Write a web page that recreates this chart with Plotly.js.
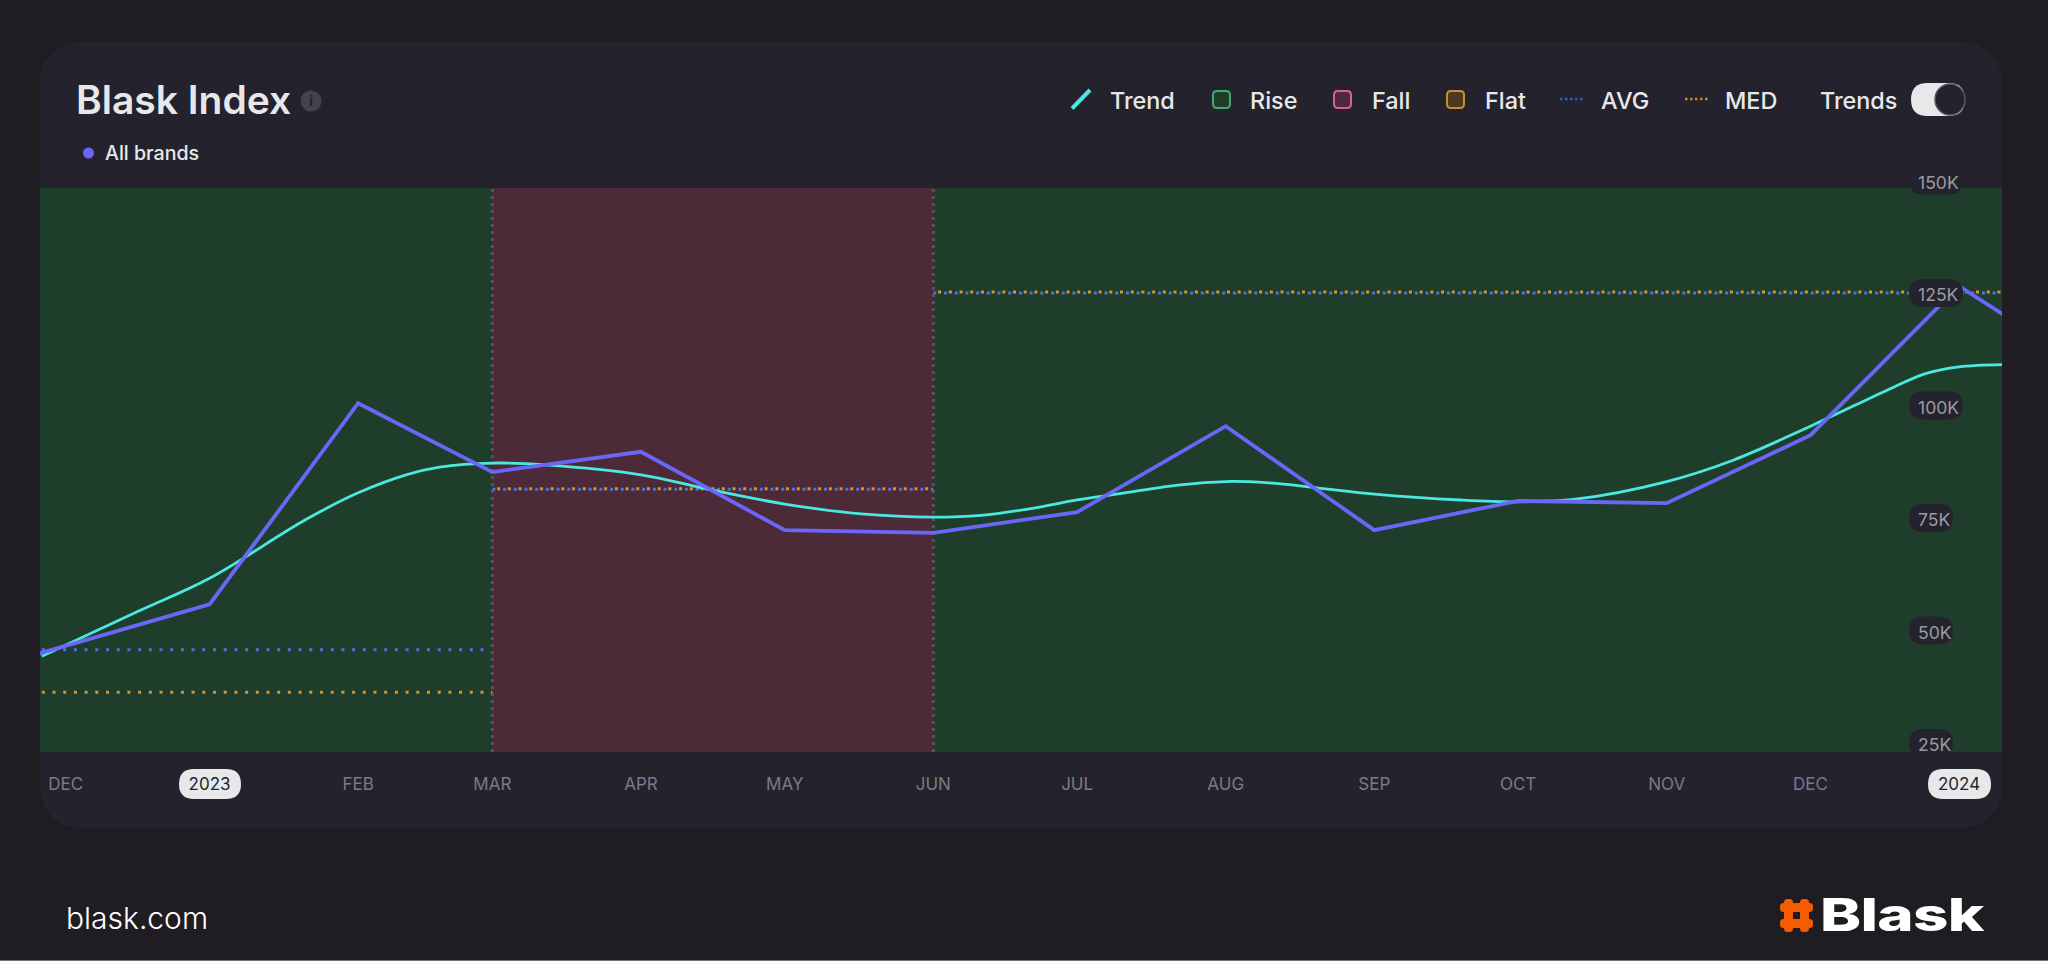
<!DOCTYPE html>
<html>
<head>
<meta charset="utf-8">
<title>Blask Index</title>
<script src="https://cdn.plot.ly/plotly-3.0.1.min.js"></script>
<style>
  html, body { margin: 0; padding: 0; width: 2048px; height: 961px; overflow: hidden; background: #201d22; }
  #card { position: absolute; left: 40px; top: 42px; width: 1962px; height: 786px; background: #24232d; border-radius: 40px; }
  #plot { position: absolute; left: 0; top: 0; width: 2048px; height: 961px; }
  #logo { position: absolute; left: 1820px; top: 888px; font: 800 45px/54px Inter, sans-serif; color: #fff;
          transform: scaleX(1.375); transform-origin: left center; letter-spacing: -0.5px; }
  #edge { position: absolute; left: 0; top: 960px; width: 2048px; height: 1px; background: #77757c; }
</style>
</head>
<body>
<div id="card"></div>
<div id="plot"></div>
<div id="logo">Blask</div>
<div id="edge"></div>
<script>
"use strict";

// ── Data (values in thousands) ──
const indexDates = ["2022-11-01", "2022-12-01", "2023-01-01", "2023-02-01", "2023-03-01", "2023-04-01",
    "2023-05-01", "2023-06-01", "2023-07-01", "2023-08-01", "2023-09-01", "2023-10-01",
    "2023-11-01", "2023-12-01", "2024-01-01", "2024-02-01"];
const indexValues = [37.1, 46.3, 55.8, 100.5, 85.2, 89.7, 72.3, 71.7, 76.3, 95.4, 72.3, 78.8, 78.3, 93.4, 126.5, 105.3];

const trendDates = ["2022-11-27", "2022-12-17", "2023-01-01", "2023-01-21", "2023-02-01", "2023-02-11",
    "2023-02-18", "2023-03-01", "2023-03-12", "2023-04-01", "2023-04-15", "2023-05-01", "2023-05-17",
    "2023-06-01", "2023-06-11", "2023-06-22", "2023-07-01", "2023-07-13", "2023-07-22", "2023-08-01",
    "2023-08-10", "2023-08-20", "2023-09-01", "2023-09-19", "2023-10-01", "2023-10-13", "2023-11-01",
    "2023-11-15", "2023-12-01", "2023-12-18", "2023-12-25", "2024-01-01", "2024-01-10"];
const trendValues = [44.3, 54.2, 61.6, 74.6, 80.6, 84.6, 86.3, 87.2, 86.8, 84.6, 81.4, 78.1, 75.9,
    75.2, 75.6, 77.2, 79.0, 80.9, 82.3, 83.1, 82.8, 81.7, 80.3, 79.0, 78.6, 79.2, 83.1,
    87.9, 95.4, 103.9, 107.1, 108.6, 109.1];

// AVG / MED per regime; the small date shift keeps the two dot rows interleaved
const avgDates = ["2022-11-27", "2023-02-28", null, "2023-03-01", "2023-06-01", null, "2023-06-01", "2024-01-10"];
const avgValues = [45.7, 45.7, null, 81.4, 81.4, null, 125.0, 125.0];
const medDates = ["2022-11-27", "2023-03-01", null, "2023-03-02", "2023-06-01", null, "2023-06-02", "2024-01-10"];
const medValues = [36.3, 36.3, null, 81.5, 81.5, null, 125.2, 125.2];

const regionStarts = ["2022-11-20", "2023-03-01", "2023-06-01"];
const regionEnds = ["2023-03-01", "2023-06-01", "2024-01-20"];
const regionColors = ["#1f3d2b", "#4c2a38", "#1f3d2b"];
const regionEdges = ["2023-03-01", "2023-06-01"];

const xTickDates = ["2022-12-02", "2023-01-01", "2023-02-01", "2023-03-01", "2023-04-01", "2023-05-01", "2023-06-01",
    "2023-07-01", "2023-08-01", "2023-09-01", "2023-10-01", "2023-11-01", "2023-12-01", "2024-01-01"];
const xTickLabels = ["DEC", "2023", "FEB", "MAR", "APR", "MAY", "JUN", "JUL", "AUG", "SEP", "OCT", "NOV", "DEC", "2024"];

const yTickValues = [25, 50, 75, 100, 125, 150];
const yTickLabels = ["25K", "50K", "75K", "100K", "125K", "150K"];

const xRange = ["2022-11-26 15:00", "2024-01-09 23:00"];
const yRange = [23, 148.33];

// ── Pixel helpers for the card chrome ──
const W = 2048, H = 961;
const M = { l: 40, r: 46, t: 188, b: 209 };
const plotW = W - M.l - M.r, plotH = H - M.t - M.b;
const FONT = "Inter, sans-serif";
const px = x => (x - M.l) / plotW;
const py = y => 1 - (y - M.t) / plotH;
const valueY = v => (v - yRange[0]) / (yRange[1] - yRange[0]);

function roundRect(x0, y0, x1, y1, r) {
    const P = (x, y) => px(x) + "," + py(y);
    return "M" + P(x0 + r, y0) + " L" + P(x1 - r, y0) + " Q" + P(x1, y0) + " " + P(x1, y0 + r) +
        " L" + P(x1, y1 - r) + " Q" + P(x1, y1) + " " + P(x1 - r, y1) +
        " L" + P(x0 + r, y1) + " Q" + P(x0, y1) + " " + P(x0, y1 - r) +
        " L" + P(x0, y0 + r) + " Q" + P(x0, y0) + " " + P(x0 + r, y0) + " Z";
}
const box = (x0, y0, x1, y1, r, fill, stroke, layer) => ({
    type: "path", xref: "paper", yref: "paper", path: roundRect(x0, y0, x1, y1, r),
    fillcolor: fill, line: { color: stroke || fill, width: stroke ? 2 : 0 }, layer: layer || "above",
});
const seg = (x0, y0, x1, y1, color, width, dash) => ({
    type: "line", xref: "paper", yref: "paper", x0: px(x0), y0: py(y0), x1: px(x1), y1: py(y1),
    line: { color, width, dash: dash || "solid" }, layer: "above",
});
const label = (x, y, text, size, color, weight, anchor) => ({
    xref: "paper", yref: "paper", x: px(x), y: py(y), text, showarrow: false, borderpad: 0,
    xanchor: anchor || "left", yanchor: "middle",
    font: { family: FONT, size, color, weight: weight || 500 },
});

// ── Traces ──
const traces = [
    { type: "scatter", mode: "lines", name: "AVG", x: avgDates, y: avgValues, hoverinfo: "skip",
      line: { color: "#4a72e0", width: 3, dash: "3px,7.7px" } },
    { type: "scatter", mode: "lines", name: "MED", x: medDates, y: medValues, hoverinfo: "skip",
      line: { color: "#d5962b", width: 3, dash: "3px,7.7px" } },
    { type: "scatter", mode: "lines", name: "Trend", x: trendDates, y: trendValues,
      line: { color: "#4be8e0", width: 2.8, shape: "spline", smoothing: 1 } },
    { type: "scatter", mode: "lines", name: "All brands", x: indexDates, y: indexValues,
      line: { color: "#6a67f8", width: 3.8 } },
];

// ── Shapes: regimes, dividers, tick pills, legend swatches ──
const shapes = [];
regionStarts.forEach((s, i) => shapes.push({
    type: "rect", xref: "x", yref: "paper", x0: s, x1: regionEnds[i], y0: 0, y1: 1,
    fillcolor: regionColors[i], line: { width: 0 }, layer: "below",
}));
regionEdges.forEach(d => shapes.push({
    type: "line", xref: "x", yref: "paper", x0: d, x1: d, y0: 0, y1: 1,
    line: { color: "#55545f", width: 3, dash: "3px,4px" }, layer: "below",
}));

// y tick pills sit on top of the lines
const yPill = 1909, yText = 1916.5;
yTickLabels.forEach((t, i) => {
    const c = H - M.b - valueY(yTickValues[i]) * plotH;
    const w = t.length > 3 ? 54 : 44;
    shapes.push(box(yPill, c - 14, yPill + w, c + 14, 14, "#24232d"));
});
// year pills behind the x tick labels
[[179, 241], [1928, 1991]].forEach(p => shapes.push(box(p[0], 769, p[1], 799, 15, "#e8e8ea", null, "below")));

// legend
shapes.push(seg(1072, 108.5, 1090, 90, "#4be8e0", 4));
shapes.push(box(1213, 91, 1230, 108, 4, "#1f3d2b", "#46a872"));
shapes.push(box(1334, 91, 1351, 108, 4, "#4c2a38", "#e05ca0"));
shapes.push(box(1447, 91, 1464, 108, 4, "#4a3a22", "#c98d35"));
shapes.push(seg(1560, 99, 1584, 99, "#2a5cd0", 2.5, "2.5px,2.5px"));
shapes.push(seg(1685, 99, 1709, 99, "#d9801e", 2.5, "2.5px,2.5px"));
// toggle
shapes.push(box(1911, 83, 1965, 116, 16.5, "#e8e8ea"));
shapes.push({ type: "circle", xref: "paper", yref: "paper", x0: px(1935), x1: px(1965), y0: py(84), y1: py(115),
    fillcolor: "#24232d", line: { color: "#55545f", width: 1.5 }, layer: "above" });
// info icon, series dot
shapes.push({ type: "circle", xref: "paper", yref: "paper", x0: px(300.5), x1: px(321.5), y0: py(90.5), y1: py(111.5),
    fillcolor: "#43434f", line: { width: 0 }, layer: "above" });
shapes.push({ type: "circle", xref: "paper", yref: "paper", x0: px(83), x1: px(94), y0: py(147.5), y1: py(158.5),
    fillcolor: "#6a67f8", line: { width: 0 }, layer: "above" });
// logo mark
shapes.push(box(1784, 899, 1793, 932, 3.5, "#f55c00"));
shapes.push(box(1800, 899, 1809, 932, 3.5, "#f55c00"));
shapes.push(box(1780, 903, 1813, 912, 3.5, "#f55c00"));
shapes.push(box(1780, 919, 1813, 928, 3.5, "#f55c00"));

// ── Annotations ──
const annotations = [
    label(311, 101, "i", 14, "#24232d", 800, "center"),
    label(104, 153, "All brands", 19.6, "#e8e8ea", 500),
    label(1109, 100, "Trend", 23.4, "#e8e8ea"),
    label(1248.5, 100, "Rise", 23.4, "#e8e8ea"),
    label(1370.5, 100, "Fall", 23.4, "#e8e8ea"),
    label(1483.5, 100, "Flat", 23.4, "#e8e8ea"),
    label(1599.5, 100, "AVG", 23.4, "#e8e8ea"),
    label(1723.5, 100, "MED", 23.4, "#e8e8ea"),
    label(1818.5, 100, "Trends", 23.4, "#e8e8ea"),
    label(65, 918, "blask.com", 30, "#ffffff", 300),
];
yTickLabels.forEach((t, i) => annotations.push({
    xref: "paper", yref: "paper", x: px(yText), y: valueY(yTickValues[i]), yshift: -2, text: t, showarrow: false,
    borderpad: 0, xanchor: "left", yanchor: "middle", font: { family: FONT, size: 17.6, color: "#9b9aa3" },
}));

const layout = {
    width: W, height: H,
    margin: M,
    paper_bgcolor: "rgba(0,0,0,0)",
    plot_bgcolor: "rgba(0,0,0,0)",
    showlegend: false,
    hovermode: false,
    title: { text: "Blask Index", x: 76 / W, xanchor: "left", y: 1 - 100 / H, yanchor: "middle",
             font: { family: FONT, size: 39, color: "#e8e8ea", weight: 600 } },
    xaxis: {
        type: "date", range: xRange, showgrid: false, zeroline: false, showline: false,
        tickmode: "array", tickvals: xTickDates,
        ticktext: xTickLabels.map(t => /^\d/.test(t) ? "<span style='color:#24232d'>" + t + "</span>" : t),
        ticks: "", ticklabelstandoff: 20,
        tickfont: { family: FONT, size: 17, color: "#7b7a85" },
    },
    yaxis: { range: yRange, showgrid: false, zeroline: false, showline: false, showticklabels: false, ticks: "" },
    shapes,
    annotations,
};

Plotly.newPlot("plot", traces, layout, { displayModeBar: false, staticPlot: true });
</script>
</body>
</html>
